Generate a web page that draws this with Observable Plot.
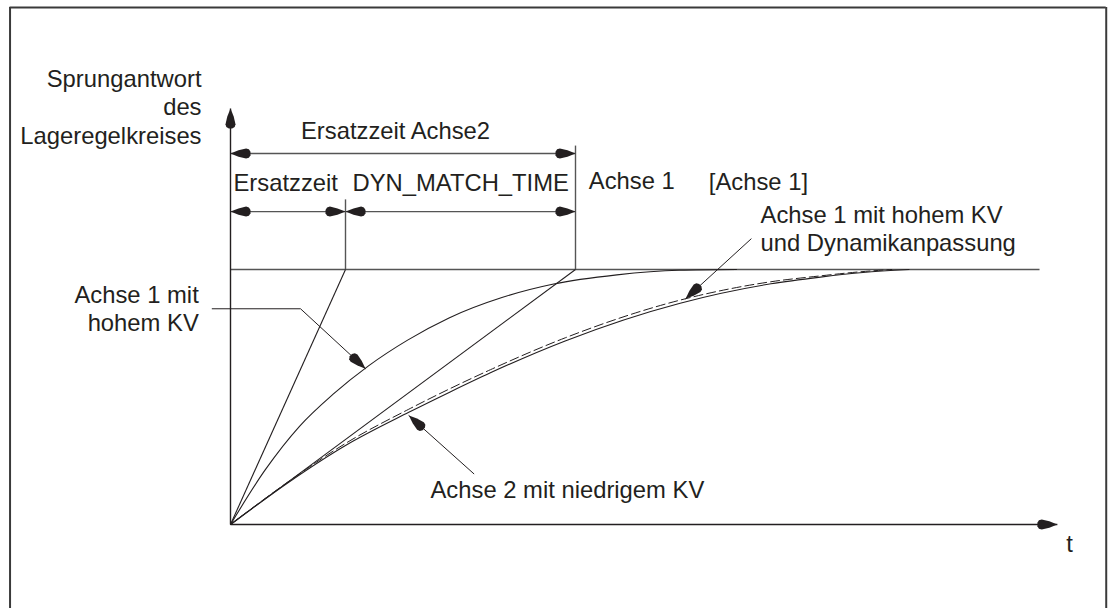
<!DOCTYPE html>
<html><head><meta charset="utf-8">
<script src="https://cdn.jsdelivr.net/npm/d3@7"></script>
<script src="https://cdn.jsdelivr.net/npm/@observablehq/plot@0.6"></script>
<style>html,body{margin:0;padding:0;background:#fff;} #chart svg{display:block}</style>
</head><body><div id="chart"></div>
<script>
// ---- data (time in units of the Achse-1 Ersatzzeit, response normalised to 1) ----
const tAchse1 = [0, 0.3, 0.6, 0.89, 1.2, 1.54, 1.9, 2.36, 2.8, 3.36, 3.9, 4.4];
const yAchse1 = [0, 0.213, 0.385, 0.51, 0.622, 0.723, 0.81, 0.89, 0.942, 0.979, 0.997, 1.0];
const tAchse2 = [0, 0.5, 1.0, 1.55, 1.91, 2.26, 2.91, 3.91, 4.7, 5.13, 5.5, 5.9];
const yAchse2 = [0, 0.164, 0.31, 0.44, 0.52, 0.595, 0.72, 0.868, 0.944, 0.97, 0.988, 1.0];
const tDyn = [0, 0.5, 1.0, 1.55, 1.91, 2.26, 2.91, 3.91, 4.7, 5.13, 5.45, 5.75];
const yDyn = [0, 0.167, 0.318, 0.452, 0.533, 0.607, 0.732, 0.88, 0.952, 0.975, 0.99, 1.0];

const ersatzzeitAchse1 = 1;       // tangent reaches 1 at t = 1
const ersatzzeitAchse2 = 3;       // tangent reaches 1 at t = 3
const steadyValue = 1;
const tAxisEnd = 7.19, yAxisEnd = 1.631, steadyEnd = 7.035;
const dimRowTop = 1.455, dimRowBottom = 1.227;
const tick1Top = 1.275, tick2Top = 1.486;

const labelTexts = ["Sprungantwort", "des", "Lageregelkreises", "Ersatzzeit Achse2", "Ersatzzeit", "DYN_MATCH_TIME",
  "Achse 1", "[Achse 1]", "Achse 1 mit hohem KV", "und Dynamikanpassung", "Achse 1 mit", "hohem KV",
  "Achse 2 mit niedrigem KV", "t"];
const labelX = [-0.252, -0.252, -0.252, 1.435, 0.026, 1.061, 3.116, 4.159, 4.609, 4.609, -0.276, -0.276, 1.739, 7.296];
const labelY = [1.745, 1.637, 1.522, 1.540, 1.336, 1.336, 1.345, 1.342, 1.212, 1.101, 0.900, 0.787, 0.133, -0.078];
const labelAnchor = ["end", "end", "end", "middle", "start", "start", "start", "start", "start", "start", "end", "end", "start", "middle"];

// leader lines (last point = arrow tip)
const leaderKV1X = [-0.159, 0.609, 1.174], leaderKV1Y = [0.846, 0.846, 0.611];
const leaderKV2X = [2.116, 1.551], leaderKV2Y = [0.199, 0.427];
const leaderDynX = [4.527, 3.957], leaderDynY = [1.12, 0.885];

const frameLeft = -1.917, frameRight = 7.615, frameTop = 2.0275;

// ---- scales ----
const xOpts = {domain: [-2, 881 / 115], range: [0, 1111]};
const yOpts = {domain: [-84 / 255, 524 / 255], range: [608, 0]};
const sx = Plot.scale({x: xOpts}), sy = Plot.scale({y: yOpts});

const rows = (xs, ys, extra = {}) => xs.map((v, i) => ({x: v, y: ys[i], ...extra}));
const seg = (x1, y1, x2, y2) => ({x1, y1, x2, y2});

const segments = [
  seg(0, 0, tAxisEnd, 0), seg(0, 0, 0, yAxisEnd)
];
const greySegments = [
  seg(0, steadyValue, steadyEnd, steadyValue),
  seg(0, dimRowTop, ersatzzeitAchse2, dimRowTop),
  seg(0, dimRowBottom, ersatzzeitAchse2, dimRowBottom),
  seg(ersatzzeitAchse1, steadyValue, ersatzzeitAchse1, tick1Top),
  seg(ersatzzeitAchse2, steadyValue, ersatzzeitAchse2, tick2Top)
];
const thinSegments = [
  seg(0, 0, ersatzzeitAchse1, steadyValue),
  seg(0, 0, ersatzzeitAchse2, steadyValue)
];

// arrowheads: tip and a point it comes from
const angle = (fx, fy, tx, ty) => Math.atan2(sy.apply(ty) - sy.apply(fy), sx.apply(tx) - sx.apply(fx)) * 180 / Math.PI;
const head = (fx, fy, tx, ty) => ({x: tx, y: ty, angle: angle(fx, fy, tx, ty)});
const last = (a) => a[a.length - 1], prev = (a) => a[a.length - 2];
const heads = [
  head(0, 0, tAxisEnd, 0),
  head(0, 0, 0, yAxisEnd),
  head(ersatzzeitAchse2, dimRowTop, 0, dimRowTop),
  head(0, dimRowTop, ersatzzeitAchse2, dimRowTop),
  head(ersatzzeitAchse2, dimRowBottom, 0, dimRowBottom),
  head(0, dimRowBottom, ersatzzeitAchse1, dimRowBottom),
  head(ersatzzeitAchse2, dimRowBottom, ersatzzeitAchse1, dimRowBottom),
  head(0, dimRowBottom, ersatzzeitAchse2, dimRowBottom),
  head(prev(leaderKV1X), prev(leaderKV1Y), last(leaderKV1X), last(leaderKV1Y)),
  head(prev(leaderKV2X), prev(leaderKV2Y), last(leaderKV2X), last(leaderKV2Y)),
  head(prev(leaderDynX), prev(leaderDynY), last(leaderDynX), last(leaderDynY))
];

// filled dart arrowhead, tip at the anchor point, pointing along +x
const dart = {
  draw(context) {
    const L = 20, W = 10;
    context.moveTo(0, 0);
    context.lineTo(-0.4 * L, -0.32 * W);
    context.lineTo(-0.78 * L, -W / 2);
    context.lineTo(-0.92 * L, -0.42 * W);
    context.lineTo(-L, -W / 6);
    context.lineTo(-L, W / 6);
    context.lineTo(-0.92 * L, 0.42 * W);
    context.lineTo(-0.78 * L, W / 2);
    context.lineTo(-0.4 * L, 0.32 * W);
    context.closePath();
  }
};

const leaders = [
  ...rows(leaderKV1X, leaderKV1Y, {k: "a"}),
  ...rows(leaderKV2X, leaderKV2Y, {k: "b"}),
  ...rows(leaderDynX, leaderDynY, {k: "c"})
];
const labels = labelTexts.map((s, i) => ({s, x: labelX[i], y: labelY[i], a: labelAnchor[i]}));

const ink = "#231f20", grey = "#555555";
const fs = 23.8;

const plot = Plot.plot({
  width: 1111, height: 608,
  marginTop: 0, marginRight: 0, marginBottom: 0, marginLeft: 0,
  x: {...xOpts, axis: null},
  y: {...yOpts, axis: null},
  style: {fontFamily: "'Liberation Sans', Arial, sans-serif", background: "#fff", color: ink},
  marks: [
    // frame (open at bottom)
    Plot.ruleX([frameLeft, frameRight], {y1: yOpts.domain[0], y2: frameTop, stroke: "#3a3a3a", strokeWidth: 2}),
    Plot.ruleY([frameTop], {x1: frameLeft, x2: frameRight, stroke: "#3a3a3a", strokeWidth: 2}),
    // construction lines
    Plot.link(greySegments, {x1: "x1", y1: "y1", x2: "x2", y2: "y2", stroke: grey, strokeWidth: 1.4}),
    Plot.link(thinSegments, {x1: "x1", y1: "y1", x2: "x2", y2: "y2", stroke: ink, strokeWidth: 1.1}),
    Plot.link(segments, {x1: "x1", y1: "y1", x2: "x2", y2: "y2", stroke: ink, strokeWidth: 1.4}),
    // curves
    Plot.line(rows(tAchse1, yAchse1), {x: "x", y: "y", curve: "monotone-x", stroke: ink, strokeWidth: 1.1}),
    Plot.line(rows(tAchse2, yAchse2), {x: "x", y: "y", curve: "monotone-x", stroke: ink, strokeWidth: 1.1}),
    Plot.line(rows(tDyn, yDyn), {x: "x", y: "y", curve: "monotone-x", stroke: ink, strokeWidth: 1, strokeDasharray: "9,4"}),
    // leader lines
    Plot.line(leaders, {x: "x", y: "y", z: "k", stroke: ink, strokeWidth: 1}),
    // arrowheads
    Plot.dot(heads, {x: "x", y: "y", rotate: "angle", symbol: dart, r: 8, fill: ink, stroke: "none"}),
    // labels
    Plot.text(labels, {x: "x", y: "y", text: "s", textAnchor: "start", filter: d => d.a === "start", fontSize: fs, fill: ink, lineAnchor: "middle"}),
    Plot.text(labels, {x: "x", y: "y", text: "s", textAnchor: "end", filter: d => d.a === "end", fontSize: fs, fill: ink, lineAnchor: "middle"}),
    Plot.text(labels, {x: "x", y: "y", text: "s", textAnchor: "middle", filter: d => d.a === "middle", fontSize: fs, fill: ink, lineAnchor: "middle"})
  ]
});
document.getElementById("chart").appendChild(plot);
</script>
</body></html>
